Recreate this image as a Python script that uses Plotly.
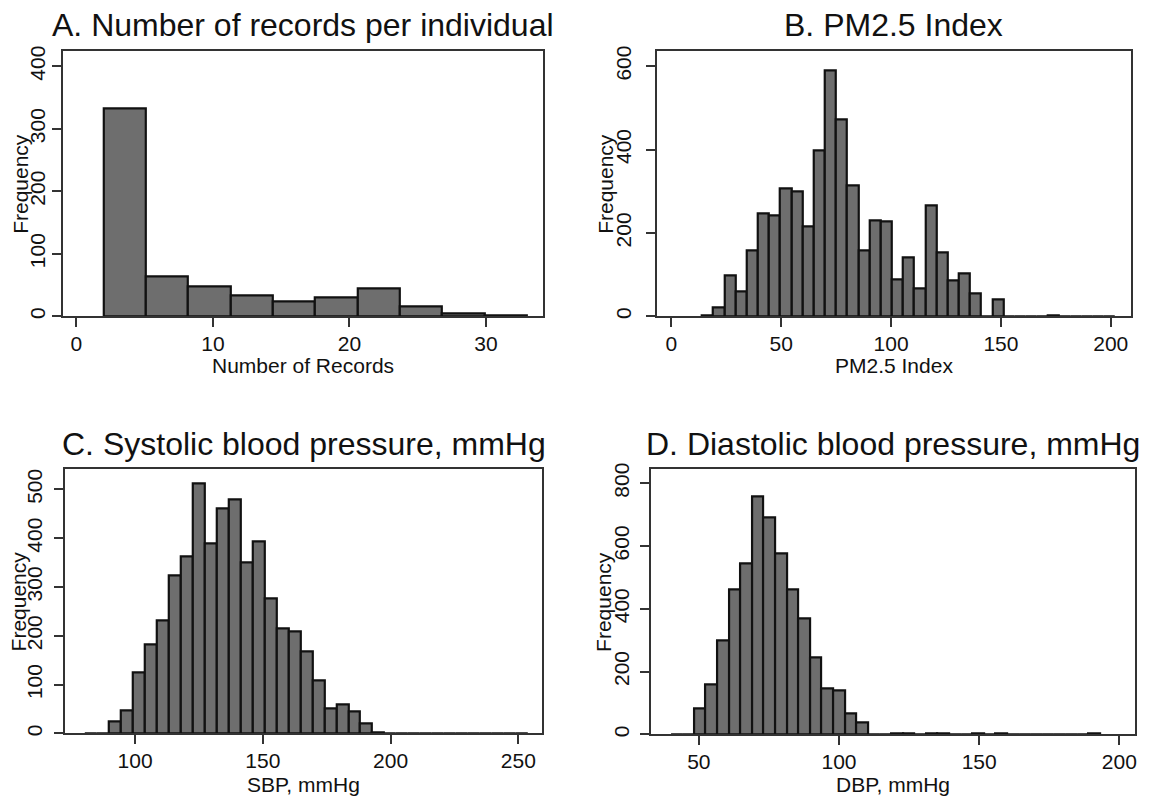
import plotly.graph_objects as go

W, H = 1150, 799

# ---------------- data ----------------
# A. Number of records per individual (10 bins from 2 to 33)
rec_min, rec_max = 2.0, 33.0
rec_counts = [333, 64, 48, 33, 24, 31, 45, 16, 4, 1]

# B. PM2.5 Index (37 bins)
pm_min, pm_max = 14.0, 202.0
pm_counts = [2, 21, 99, 59, 157, 247, 241, 308, 300, 215, 399, 590, 473, 313,
             158, 230, 227, 89, 142, 68, 267, 153, 86, 103, 54, 0, 40, 1, 0, 0,
             0, 2, 1, 0, 0, 0, 1]

# C. Systolic blood pressure (37 bins)
sbp_min, sbp_max = 80.5, 253.7
sbp_counts = [1, 1, 25, 48, 125, 183, 231, 324, 363, 512, 389, 462, 479, 351,
              394, 277, 216, 210, 168, 108, 52, 59, 46, 20, 3, 1, 1, 1, 0, 1,
              0, 1, 0, 0, 0, 0, 1]

# D. Diastolic blood pressure (37 bins)
dbp_min, dbp_max = 40.0, 193.1
dbp_counts = [1, 0, 82, 159, 299, 462, 546, 757, 692, 577, 461, 370, 246, 147,
              140, 67, 38, 1, 0, 3, 3, 0, 3, 3, 0, 0, 2, 0, 3, 0, 0, 0, 0, 0,
              0, 0, 3]

titles = ["A. Number of records per individual", "B. PM2.5 Index",
          "C. Systolic blood pressure, mmHg", "D. Diastolic blood pressure, mmHg"]
xtitles = ["Number of Records", "PM2.5 Index", "SBP, mmHg", "DBP, mmHg"]
ytitle = "Frequency"
xticks = [[0, 10, 20, 30], [0, 50, 100, 150, 200], [100, 150, 200, 250], [50, 100, 150, 200]]
yticks = [[0, 100, 200, 300, 400], [0, 200, 400, 600], [0, 100, 200, 300, 400, 500],
          [0, 200, 400, 600, 800]]

# ---------------- layout geometry (pixels) ----------------
panels = [
    dict(data=(rec_min, rec_max, rec_counts), frame=(63, 544, 45, 313.3),
         xr=[-0.99, 34.19], yr=[0, 423.7], ylab_x=21, ttl_y=18, xt_y=363, ystand=-1),
    dict(data=(pm_min, pm_max, pm_counts), frame=(658, 1132.5, 45, 313.3),
         xr=[-6.6, 209.0], yr=[0, 635.5], ylab_x=607, ttl_y=18, xt_y=363, ystand=7),
    dict(data=(sbp_min, sbp_max, sbp_counts), frame=(65, 543.3, 468.3, 735.7),
         xr=[72.5, 259.4], yr=[0, 541.0], ylab_x=18, ttl_y=443, xt_y=787, ystand=4),
    dict(data=(dbp_min, dbp_max, dbp_counts), frame=(652.3, 1136.7, 468.3, 736.7),
         xr=[33.0, 205.5], yr=[0, 844.0], ylab_x=605, ttl_y=443, xt_y=787, ystand=3),
]

BAR_FILL = "#6e6e6e"
BAR_LINE = "#111111"
AX = "#333333"
FONT = "Liberation Sans, Arial, sans-serif"

fig = go.Figure()
annotations = []
layout = {}
for i, p in enumerate(panels):
    n = i + 1
    lo, hi, counts = p["data"]
    k = len(counts)
    w = (hi - lo) / k
    centers = [lo + w * (j + 0.5) for j in range(k)]
    xa = "x" if n == 1 else f"x{n}"
    ya = "y" if n == 1 else f"y{n}"
    fig.add_trace(go.Bar(
        x=centers, y=counts, width=[w] * k, xaxis=xa, yaxis=ya,
        marker=dict(color=BAR_FILL, line=dict(color=BAR_LINE, width=2.2)),
        showlegend=False, hoverinfo="x+y"))
    l, r, t, b = p["frame"]
    xd = [l / W, r / W]
    yd = [1 - b / H, 1 - t / H]
    common = dict(showline=True, mirror=True, linecolor=AX, linewidth=1.6,
                  ticks="outside", ticklen=9, tickwidth=1.6, tickcolor=AX,
                  showgrid=False, zeroline=False,
                  tickfont=dict(size=21, color="#111111", family=FONT))
    layout["xaxis" if n == 1 else f"xaxis{n}"] = dict(
        domain=xd, range=p["xr"], tickvals=xticks[i], anchor=ya,
        ticklabelstandoff=-1, **common)
    layout["yaxis" if n == 1 else f"yaxis{n}"] = dict(
        domain=yd, range=p["yr"], tickvals=yticks[i], anchor=xa, tickangle=-90,
        ticklabelstandoff=p["ystand"], **common)
    cx = (l + r) / 2
    annotations.append(dict(text=titles[i], x=cx / W, y=1 - p["ttl_y"] / H,
                            xref="paper", yref="paper", xanchor="center", yanchor="middle",
                            showarrow=False, font=dict(size=32, color="#111111", family=FONT)))
    annotations.append(dict(text=xtitles[i], x=cx / W, y=1 - p["xt_y"] / H,
                            xref="paper", yref="paper", xanchor="center", yanchor="middle",
                            showarrow=False, font=dict(size=21, color="#111111", family=FONT)))
    annotations.append(dict(text=ytitle, x=p["ylab_x"] / W, y=1 - ((t + b) / 2) / H,
                            xref="paper", yref="paper", xanchor="center", yanchor="middle",
                            textangle=-90, showarrow=False,
                            font=dict(size=21, color="#111111", family=FONT)))

fig.update_layout(width=W, height=H, margin=dict(l=0, r=0, t=0, b=0),
                  paper_bgcolor="white", plot_bgcolor="white",
                  font=dict(family=FONT, color="#111111"),
                  annotations=annotations, bargap=0, **layout)

fig.write_html("out.html", config={"displayModeBar": False},
               post_script="document.body.style.margin='0';document.body.style.overflow='hidden';")
